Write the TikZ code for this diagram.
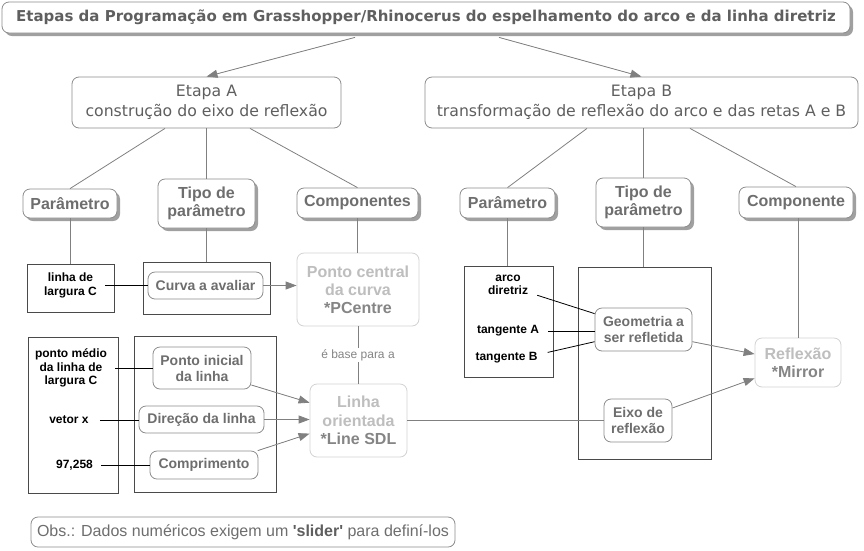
\documentclass[tikz,border=0pt]{standalone}
\usepackage{fontspec}
\setmainfont{Liberation Sans}
\newfontfamily\verd{DejaVu Sans}
\usetikzlibrary{arrows.meta,shadows,calc}
\definecolor{bord}{HTML}{8C8C8C}
\definecolor{txt}{HTML}{6E6E6E}
\definecolor{ttl}{HTML}{5F5F5F}
\definecolor{lbord}{HTML}{D2D2D2}
\definecolor{ltxt}{HTML}{BEBEBE}
\definecolor{dtxt}{HTML}{858585}
\definecolor{conn}{HTML}{808080}
\definecolor{shad}{HTML}{A0A0A0}
\definecolor{rect}{HTML}{4A4A4A}
\tikzset{
  rbox/.style={draw=bord, line width=0.8pt, rounded corners=7pt, fill=white, align=center, inner sep=0pt, text=txt},
  shbox/.style={rbox, drop shadow={shadow xshift=3pt, shadow yshift=-3pt, fill=shad, opacity=1}},
  lbox/.style={rbox, draw=lbord, text=ltxt},
  sqbox/.style={draw=rect, line width=0.8pt, inner sep=0pt},
  big/.style={font=\fontsize{16}{18}\selectfont\bfseries},
  small/.style={font=\fontsize{14}{16}\selectfont\bfseries},
  blk/.style={font=\fontsize{12}{13.5}\selectfont\bfseries, text=black, align=center, inner ysep=0pt},
  etapa/.style={rbox, font=\verd\fontsize{15.7}{20}\selectfont, text=ttl},
  conline/.style={draw=conn, line width=0.8pt},
  arr/.style={conline, -{Triangle[length=11pt,width=8pt]}, fill=conn},
  bline/.style={draw=black, line width=0.8pt},
}
\begin{document}
\begin{tikzpicture}[x=1pt,y=-1pt]
\useasboundingbox (0,0) rectangle (864,550);
% title
\node[shbox, text=ttl, font=\verd\fontsize{15}{17}\selectfont\bfseries,
  minimum width=848pt, minimum height=31pt] (title) at (426,17.5)
  {Etapas da Programação em Grasshopper/Rhinocerus do espelhamento do arco e da linha diretriz};
% etapas
\node[etapa, minimum width=269pt, minimum height=51pt] (etapaA) at (206.5,102.5)
  {Etapa A\\construção do eixo de reflexão};
\node[etapa, minimum width=433pt, minimum height=51pt] (etapaB) at (641.5,102.5)
  {Etapa B\\transformação de reflexão do arco e das retas A e B};
% headers A
\node[shbox, big, minimum width=94pt, minimum height=29pt] (parA) at (70,203.5) {Parâmetro};
\node[shbox, big, minimum width=97pt, minimum height=49pt] (tipoA) at (206.5,203.5) {Tipo de\\parâmetro};
\node[shbox, big, minimum width=121pt, minimum height=30pt] (compA) at (357.5,203) {Componentes};
% headers B
\node[shbox, big, minimum width=95pt, minimum height=30pt] (parB) at (507.5,203) {Parâmetro};
\node[shbox, big, minimum width=95pt, minimum height=49pt] (tipoB) at (643.5,202.5) {Tipo de\\parâmetro};
\node[shbox, big, minimum width=114pt, minimum height=31pt] (compB) at (796,202.5) {Componente};
% rectangles
\node[sqbox, minimum width=87pt, minimum height=48pt] (lcbox) at (70.5,288) {};
\node[sqbox, minimum width=127pt, minimum height=52pt] (contA1) at (206.5,288) {};
\node[sqbox, minimum width=90pt, minimum height=156pt] (leftbox) at (73,415) {};
\node[sqbox, minimum width=142pt, minimum height=156pt] (contA2) at (205,414) {};
\node[sqbox, minimum width=89pt, minimum height=111pt] (arcobox) at (508.5,321.5) {};
\node[sqbox, minimum width=133pt, minimum height=192pt] (contB) at (644.5,363) {};
% black texts
\node[blk, inner xsep=8pt] (lc) at (70.5,285.5) {linha de\\largura C};
\node[blk, inner xsep=8pt] (t1) at (71,368) {ponto médio\\da linha de\\largura C};
\node[blk, inner xsep=11pt] (t2) at (69,420) {vetor x};
\node[blk, inner xsep=8pt] (t3) at (74.5,465) {97,258};
\node[blk, inner xsep=9pt] (ad) at (508,285) {arco\\diretriz};
\node[blk, inner xsep=9pt] (ta) at (508,331) {tangente A};
\node[blk, inner xsep=10pt] (tb) at (506.5,358) {tangente B};
% inner rounded boxes
\node[rbox, small, minimum width=115pt, minimum height=27pt] (curva) at (205.5,285.5) {Curva a avaliar};
\node[rbox, small, minimum width=98pt, minimum height=42pt] (pinicial) at (202,368) {Ponto inicial\\da linha};
\node[rbox, small, minimum width=125pt, minimum height=27pt] (direcao) at (201.5,419.5) {Direção da linha};
\node[rbox, small, minimum width=108pt, minimum height=28pt] (compr) at (204,465) {Comprimento};
\node[rbox, small, minimum width=97pt, minimum height=43pt] (geom) at (643.5,329.5) {Geometria a\\ser refletida};
\node[rbox, small, minimum width=68pt, minimum height=43pt] (eixo) at (638,420.5) {Eixo de\\reflexão};
% light component boxes
\node[lbox, big, minimum width=122pt, minimum height=73pt] (pcentral) at (358,289.5)
  {Ponto central\\da curva\\\textcolor{dtxt}{*PCentre}};
\node[lbox, font=\fontsize{16}{18.5}\selectfont\bfseries, minimum width=97pt, minimum height=73pt] (linhaor) at (358.5,420.5)
  {Linha\\orientada\\\textcolor{dtxt}{*Line SDL}};
\node[lbox, big, minimum width=86pt, minimum height=49pt] (reflexao) at (798,362.5)
  {Reflexão\\\textcolor{dtxt}{*Mirror}};
% obs
\node[rbox, font=\fontsize{16}{18}\selectfont, minimum width=424pt, minimum height=30pt] (obs) at (243,532)
  {Obs.: Dados numéricos exigem um {\bfseries\color{ttl}\textquotesingle slider\textquotesingle} para definí-los};
% connectors
\draw[arr] ([xshift=-71pt,yshift=-4pt]title.south) -- (etapaA.north);
\draw[arr] ([xshift=73pt,yshift=-4pt]title.south) -- (etapaB.north);
\draw[conline] ([xshift=-41.5pt]etapaA.south) -- (parA.north);
\draw[conline] (etapaA.south) -- (tipoA.north);
\draw[conline] ([xshift=43.5pt]etapaA.south) -- (compA.north);
\draw[conline] ([xshift=-54.5pt]etapaB.south) -- (parB.north);
\draw[conline] (etapaB.south -| tipoB.north) -- (tipoB.north);
\draw[conline] ([xshift=48.5pt]etapaB.south) -- (compB.north);
\draw[conline] (parA.south) -- (parA.south |- lcbox.north);
\draw[conline] (tipoA.south) -- (contA1.north);
\draw[conline] (compA.south) -- (compA.south |- pcentral.north);
\draw[bline] (lc.east) -- (lc.east -| curva.west);
\draw[arr] (curva.east) -- (curva.east -| pcentral.west);
\draw[conline] (pcentral.south) -- node[fill=white, inner sep=1.5pt, text=dtxt, font=\fontsize{12}{14}\selectfont] (base) {é base para a} (pcentral.south |- linhaor.north);
\draw[bline] (t1.east) -- (t1.east -| pinicial.west);
\draw[bline] (t2.east) -- (t2.east -| direcao.west);
\draw[bline] (t3.east) -- (t3.east -| compr.west);
\draw[arr] (pinicial.-19) -- (linhaor.160);
\draw[arr] (direcao.east) -- (direcao.east -| linhaor.west);
\draw[arr] (compr.15) -- (linhaor.195);
\draw[conline] (linhaor.east) -- (linhaor.east -| eixo.west);
\draw[conline] (parB.south) -- (parB.south |- arcobox.north);
\draw[conline] (tipoB.south) -- (tipoB.south |- contB.north);
\draw[conline] (reflexao.north |- compB.south) -- (reflexao.north);
\draw[bline] (ad.south east) -- (geom.162);
\draw[bline] (ta.east) -- (ta.east -| geom.west);
\draw[bline] (tb.north east) -- (geom.194);
\draw[arr] (geom.-14.5) -- (reflexao.169);
\draw[arr] (eixo.20) -- (reflexao.200);
\end{tikzpicture}
\end{document}
